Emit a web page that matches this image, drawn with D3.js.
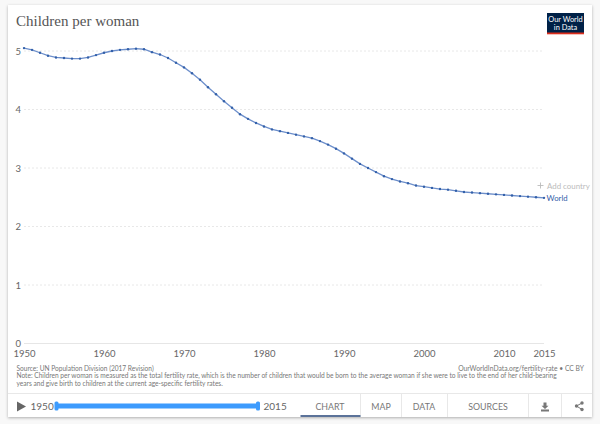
<!DOCTYPE html>
<html><head><meta charset="utf-8">
<script src="https://cdn.jsdelivr.net/npm/d3@7"></script>
<style>html,body{margin:0;padding:0;background:#f8f8f8;overflow:hidden}svg{display:block}text{font-family:Lato,sans-serif}</style>
</head><body><svg id="c" width="600" height="424"></svg>
<script>
const years = d3.range(1950, 2016);
const world = [5.05,5.02,4.97,4.92,4.89,4.88,4.87,4.87,4.89,4.93,4.97,5.00,5.02,5.03,5.04,5.03,4.98,4.94,4.88,4.80,4.72,4.62,4.51,4.38,4.26,4.14,4.03,3.92,3.84,3.77,3.71,3.66,3.63,3.60,3.57,3.54,3.51,3.46,3.40,3.33,3.25,3.16,3.07,3.00,2.93,2.86,2.81,2.77,2.74,2.70,2.68,2.66,2.64,2.63,2.61,2.59,2.58,2.57,2.56,2.55,2.54,2.53,2.52,2.51,2.50,2.49];
const xTicks = [1950,1960,1970,1980,1990,2000,2010,2015];
const yTicks = [0,1,2,3,4,5];
const tabs = ["CHART","MAP","DATA","SOURCES"];

const svg = d3.select("#c");
const x = d3.scaleLinear().domain([1950,2015]).range([24,544]);
const y = d3.scaleLinear().domain([0,5]).range([343.5,51]);

const defs = svg.append("defs");
const f = defs.append("filter").attr("id","sh").attr("x","-5%").attr("y","-5%").attr("width","110%").attr("height","110%");
f.append("feDropShadow").attr("dx",0).attr("dy",1).attr("stdDeviation",1.5).attr("flood-color","#000").attr("flood-opacity",.3);

svg.append("rect").attr("x",8).attr("y",5).attr("width",584).attr("height",412).attr("fill","#fff").attr("filter","url(#sh)");

svg.append("text").attr("x",16).attr("y",26).attr("fill","#555").attr("font-size",15)
  .style("font-family","'Liberation Serif',serif").text("Children per woman");

// logo
svg.append("rect").attr("x",547).attr("y",13).attr("width",37).attr("height",21).attr("fill","#002147");
svg.append("rect").attr("x",547).attr("y",32.5).attr("width",37).attr("height",1.8).attr("fill","#dc2e1c");
svg.selectAll(".lg").data(["Our World","in Data"]).join("text").attr("class","lg")
  .attr("x",565.5).attr("y",(d,i)=>21.5+i*8.5).attr("text-anchor","middle").attr("fill","#fff").attr("font-size",7.4).text(d=>d);

// gridlines
svg.selectAll(".grid").data(yTicks).join("line").attr("class","grid")
  .attr("x1",24).attr("x2",544).attr("y1",d=>y(d)).attr("y2",d=>y(d))
  .attr("stroke",d=>d===0?"#e6e6e6":"#e2e2e2").attr("stroke-width",d=>d===0?1.2:.8)
  .attr("stroke-dasharray",d=>d===0?null:"2,2");

// axes
const yAxis = d3.axisLeft(y).tickValues(yTicks).tickSize(0).tickPadding(0).tickFormat(d3.format("d"));
const gy = svg.append("g").attr("transform","translate(21,0)").call(yAxis);
gy.select(".domain").remove();
gy.selectAll("text").attr("fill","#666").attr("font-size",9.5).style("font-family","Lato").attr("text-anchor","end")
  .attr("dy","0.32em");
const xAxis = d3.axisBottom(x).tickValues(xTicks).tickSize(0).tickPadding(0).tickFormat(d3.format("d"));
const gx = svg.append("g").attr("transform","translate(0,350)").call(xAxis);
gx.select(".domain").remove();
gx.selectAll("text").attr("fill","#666").attr("font-size",9.5).style("font-family","Lato");

// series
const line = d3.line().x((d,i)=>x(years[i])).y(d=>y(d));
svg.append("path").datum(world).attr("d",line).attr("fill","none").attr("stroke","#6d8fcb").attr("stroke-width",1.3);
svg.selectAll(".pt").data(world).join("circle").attr("class","pt")
  .attr("cx",(d,i)=>x(years[i])).attr("cy",d=>y(d)).attr("r",1.2).attr("fill","#3360a9");

svg.append("text").attr("x",546.5).attr("y",200.5).attr("fill","#3360a9").attr("font-size",7.8).text("World");
svg.append("text").attr("x",547).attr("y",188.5).attr("fill","#bbb").attr("font-size",7.9).text("Add country");
svg.append("path").attr("d","M537.5 185.5h6M540.5 182.5v6").attr("stroke","#bbb").attr("stroke-width",.9);

// footer text
const foot = ["Source: UN Population Division (2017 Revision)",
 "Note: Children per woman is measured as the total fertility rate, which is the number of children that would be born to the average woman if she were to live to the end of her child-bearing",
 "years and give birth to children at the current age-specific fertility rates."];
svg.selectAll(".ft").data(foot).join("text").attr("class","ft").attr("x",16.5).attr("y",(d,i)=>370.5+i*7.5)
  .attr("fill","#777").attr("font-size",6.6).text(d=>d);
svg.append("text").attr("x",584).attr("y",370.5).attr("text-anchor","end").attr("fill","#777").attr("font-size",6.75).text("OurWorldInData.org/fertility-rate • CC BY");

// control bar
svg.append("line").attr("x1",8).attr("x2",592).attr("y1",393.5).attr("y2",393.5).attr("stroke","#e8e8e8");
svg.append("path").attr("d","M17 401.5L26 406.5L17 411.5Z").attr("fill","#666");
svg.append("text").attr("x",30.5).attr("y",410).attr("fill","#666").attr("font-size",10).text("1950");
svg.append("text").attr("x",263.5).attr("y",410).attr("fill","#666").attr("font-size",10).text("2015");
svg.append("rect").attr("x",56).attr("y",403.5).attr("width",202).attr("height",5).attr("fill","#3d9bfd");
svg.selectAll(".hd").data([54.5,256]).join("rect").attr("class","hd").attr("x",d=>d).attr("y",401.5)
  .attr("width",4).attr("height",9).attr("rx",1.5).attr("fill","#3d9bfd");

// tabs
const seps = [360.5,401.5,447.5,528.5,561.5];
svg.selectAll(".sep").data(seps).join("line").attr("class","sep")
  .attr("x1",d=>d).attr("x2",d=>d).attr("y1",394).attr("y2",417).attr("stroke","#e8e8e8");
const tabC = [330,381,424,488];
svg.selectAll(".tb").data(tabs).join("text").attr("class","tb").attr("x",(d,i)=>tabC[i]).attr("y",409.5)
  .attr("text-anchor","middle").attr("fill","#777").attr("font-size",8.8).text(d=>d);
svg.append("rect").attr("x",300.5).attr("y",415).attr("width",60).attr("height",2).attr("fill","#5b7299");

// download icon
svg.append("path").attr("d","M543.5 402.5h3v3.2h2l-3.5 3.3l-3.5-3.3h2z M541 409.5h8v2h-8z").attr("fill","#777");
// share icon
const sh = [[582,403],[576.5,406],[582,409.5]];
svg.append("path").attr("d",d3.line()(sh)).attr("fill","none").attr("stroke","#777").attr("stroke-width",1);
svg.selectAll(".sh").data(sh).join("circle").attr("class","sh").attr("cx",d=>d[0]).attr("cy",d=>d[1]).attr("r",1.7).attr("fill","#777");
</script></body></html>
